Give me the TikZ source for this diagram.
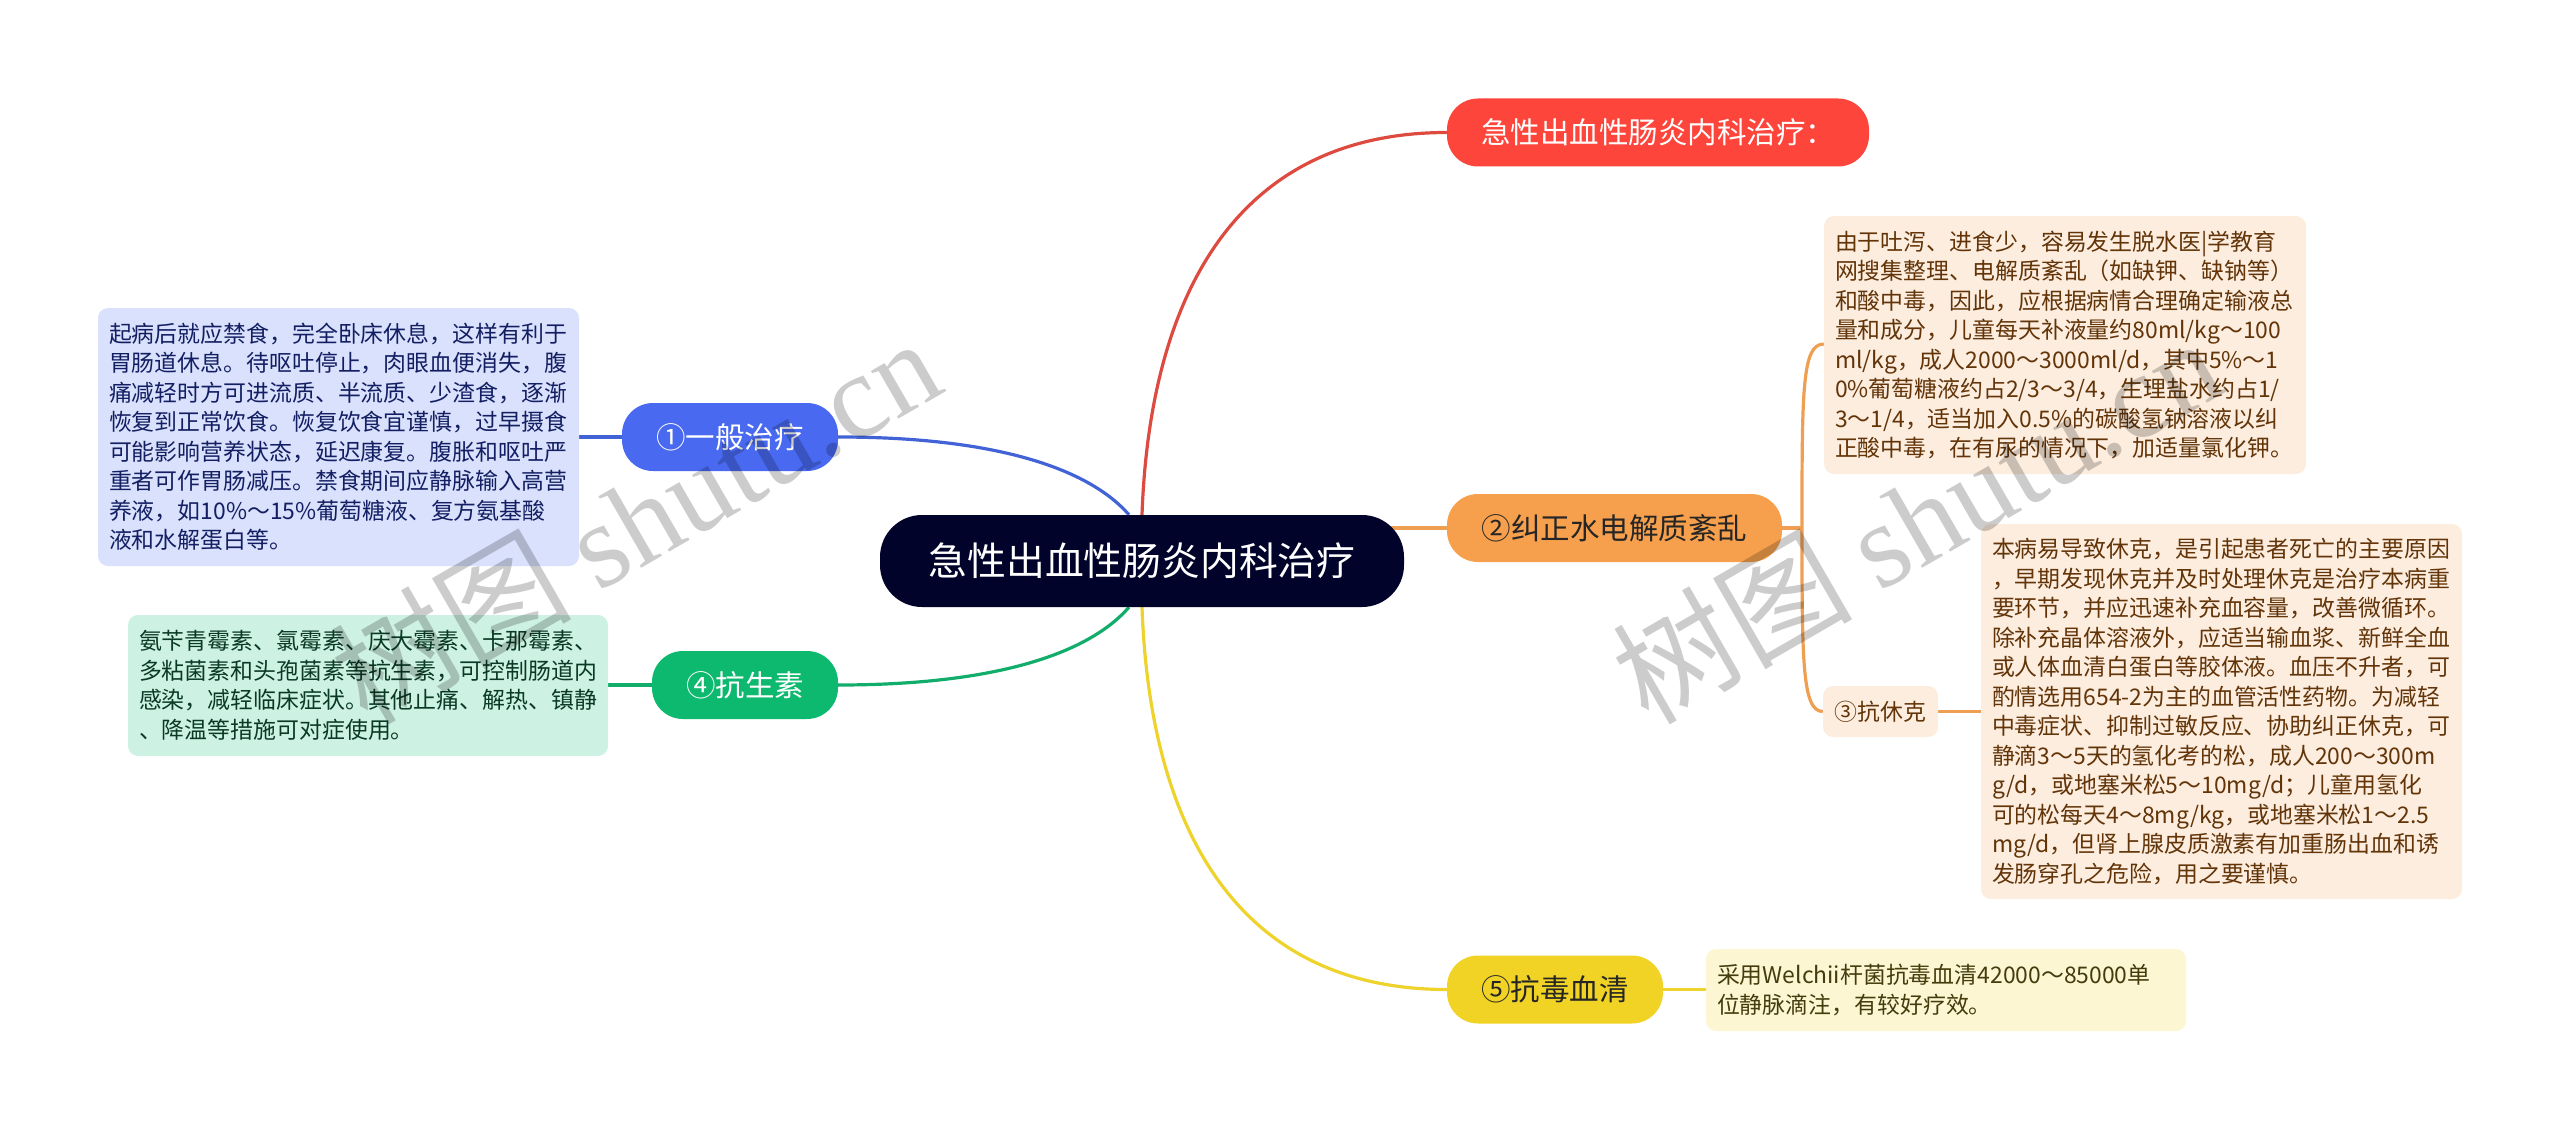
\documentclass[tikz,border=0pt]{standalone}
\usepackage{fontspec}
\setmainfont{Noto Sans CJK SC}
\newfontfamily\stampserif{Liberation Serif}
\usetikzlibrary{backgrounds}
\definecolor{rootfill}{HTML}{02032A}
\definecolor{redfill}{HTML}{FD453B}
\definecolor{bluefill}{HTML}{4869F0}
\definecolor{greenfill}{HTML}{0DB96F}
\definecolor{orangefill}{HTML}{F6A04D}
\definecolor{yellowfill}{HTML}{F1D325}
\definecolor{bluebox}{HTML}{D9E1FC}
\definecolor{greenbox}{HTML}{CDF1E2}
\definecolor{orangebox}{HTML}{FCEDDF}
\definecolor{yellowbox}{HTML}{FCF6D3}
\definecolor{bluetext}{HTML}{141F63}
\definecolor{greentext}{HTML}{0A3A26}
\definecolor{orangetext}{HTML}{623408}
\definecolor{yellowtext}{HTML}{443C0C}
\definecolor{redline}{HTML}{DD4A3F}
\definecolor{blueline}{HTML}{4263D6}
\definecolor{greenline}{HTML}{12AD6B}
\definecolor{orangeline}{HTML}{EE9F52}
\definecolor{yellowline}{HTML}{EDD32C}
\tikzset{
    pill/.style={rounded corners=31pt,inner sep=0pt,minimum height=68pt,
        font=\fontsize{29.5}{35}\selectfont},
    note/.style={rounded corners=10pt,inner xsep=11pt,inner ysep=0pt,align=left,
        font=\fontsize{22.9}{29.5}\selectfont},
    link/.style={line width=3.2pt},
    stamp/.style={rotate=30,text=black,text opacity=.2,inner sep=0pt,
        font=\fontsize{120}{120}\selectfont}
}
\begin{document}
\begin{tikzpicture}[x=1pt,y=-1pt]
    \useasboundingbox (0,0) rectangle (2560,1129);
    %% centre
    \node[rounded corners=42pt,fill=rootfill,text=white,inner sep=0pt,
        minimum width=524pt,minimum height=92pt,
        font=\fontsize{38.8}{46}\selectfont] (root) at (1142,561) {急性出血性肠炎内科治疗};
    %% right side
    \node[pill,fill=redfill,text=white,minimum width=422pt] (title) at (1658,132.5) {急性出血性肠炎内科治疗：};
    \node[pill,fill=orangefill,text=black!85,minimum width=335pt] (fluid) at (1614.5,528) {②纠正水电解质紊乱};
    \node[pill,fill=yellowfill,text=black!85,minimum width=216pt] (serum) at (1555,989.5) {⑤抗毒血清};
    \node[note,fill=orangebox,text=orangetext,text width=460pt,minimum height=258pt] (fluidnote) at (2065,345) {由于吐泻、进食少，容易发生脱水医|学教育\\
        网搜集整理、电解质紊乱（如缺钾、缺钠等）\\
        和酸中毒，因此，应根据病情合理确定输液总\\
        量和成分，儿童每天补液量约80ml/kg～100\\
        ml/kg，成人2000～3000ml/d，其中5\%～1\\
        0\%葡萄糖液约占2/3～3/4，生理盐水约占1/\\
        3～1/4，适当加入0.5\%的碳酸氢钠溶液以纠\\
        正酸中毒，在有尿的情况下，加适量氯化钾。};
    \node[note,fill=orangebox,text=orangetext,inner xsep=0pt,align=center,minimum width=115pt,minimum height=51pt] (shock) at (1880.5,711.5) {③抗休克};
    \node[note,fill=orangebox,text=orangetext,text width=459pt,minimum height=375pt] (shocknote) at (2221.5,711.5) {本病易导致休克，是引起患者死亡的主要原因\\
        ，早期发现休克并及时处理休克是治疗本病重\\
        要环节，并应迅速补充血容量，改善微循环。\\
        除补充晶体溶液外，应适当输血浆、新鲜全血\\
        或人体血清白蛋白等胶体液。血压不升者，可\\
        酌情选用654-2为主的血管活性药物。为减轻\\
        中毒症状、抑制过敏反应、协助纠正休克，可\\
        静滴3～5天的氢化考的松，成人200～300m\\
        g/d，或地塞米松5～10mg/d；儿童用氢化\\
        可的松每天4～8mg/kg，或地塞米松1～2.5\\
        mg/d，但肾上腺皮质激素有加重肠出血和诱\\
        发肠穿孔之危险，用之要谨慎。};
    \node[note,fill=yellowbox,text=yellowtext,text width=458pt,minimum height=82pt] (serumnote) at (1946,990) {采用Welchii杆菌抗毒血清42000～85000单\\
        位静脉滴注，有较好疗效。};
    %% left side
    \node[pill,fill=bluefill,text=white,minimum width=216pt] (general) at (730,437) {①一般治疗};
    \node[pill,fill=greenfill,text=white,minimum width=186pt] (drug) at (745,685) {④抗生素};
    \node[note,fill=bluebox,text=bluetext,text width=459pt,minimum height=258pt] (generalnote) at (338.5,437) {起病后就应禁食，完全卧床休息，这样有利于\\
        胃肠道休息。待呕吐停止，肉眼血便消失，腹\\
        痛减轻时方可进流质、半流质、少渣食，逐渐\\
        恢复到正常饮食。恢复饮食宜谨慎，过早摄食\\
        可能影响营养状态，延迟康复。腹胀和呕吐严\\
        重者可作胃肠减压。禁食期间应静脉输入高营\\
        养液，如10\%～15\%葡萄糖液、复方氨基酸\\
        液和水解蛋白等。};
    \node[note,fill=greenbox,text=greentext,text width=458pt,minimum height=141pt] (drugnote) at (368,685.5) {氨苄青霉素、氯霉素、庆大霉素、卡那霉素、\\
        多粘菌素和头孢菌素等抗生素，可控制肠道内\\
        感染，减轻临床症状。其他止痛、解热、镇静\\
        、降温等措施可对症使用。};
    %% connectors
    \begin{scope}[on background layer]
        \draw[link,redline] (root.north) .. controls (1150,290) and (1240,132.5) .. (title.west);
        \draw[link,yellowline] (root.south) .. controls (1150,832) and (1240,989.5) .. (serum.west);
        \draw[link,blueline] ([xshift=-13pt]root.north) .. controls (1090,470) and (1000,437) .. (general.east);
        \draw[link,greenline] ([xshift=-13pt]root.south) .. controls (1090,652) and (1000,685) .. (drug.east);
        \draw[link,orangeline] (root.center |- fluid.west) -- (fluid.west);
        \draw[link,orangeline] (fluid.east) -- (1802,528) coordinate (fork);
        \draw[link,orangeline] (fork) .. controls (1802,390) and (1802,344) .. (fluidnote.west |- 0,344);
        \draw[link,orangeline] (fork) .. controls (1802,660) and (1802,711.5) .. (shock.west);
        \draw[link,orangeline] (shock.east) -- (shocknote.west);
        \draw[link,yellowline] (serum.east) -- (serumnote.west |- serum.east);
        \draw[link,blueline] (general.west) -- (generalnote.east);
        \draw[link,greenline] (drug.west) -- (drugnote.east |- drug.west);
    \end{scope}
    %% watermark
    \node[stamp] (stampleft) at (635,519) {树图 {\stampserif shutu.cn}};
    \node[stamp] (stampright) at (1916,519) {树图 {\stampserif shutu.cn}};
\end{tikzpicture}
\end{document}
